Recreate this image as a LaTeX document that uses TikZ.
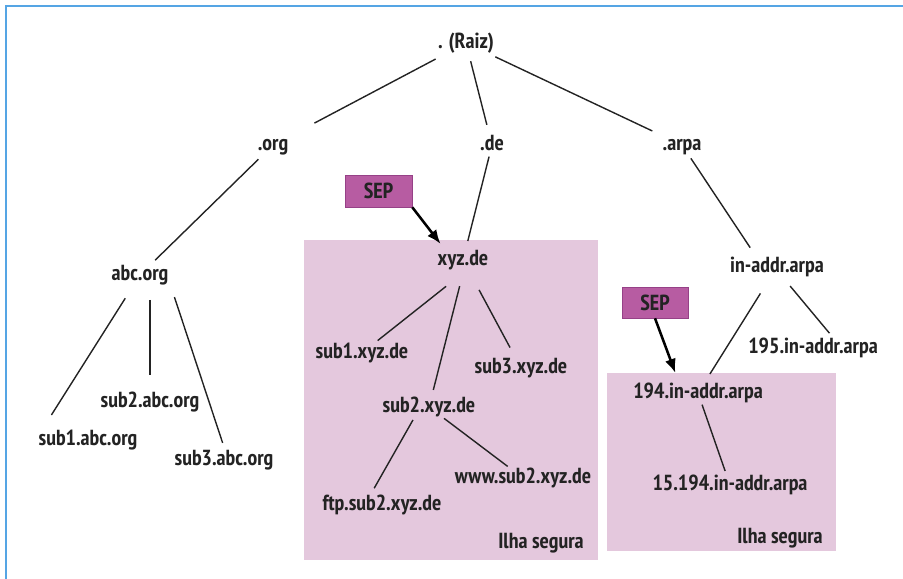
\documentclass[tikz,border=0pt]{standalone}
\usepackage{fontspec}
\setmainfont{PT Sans Narrow}
\usetikzlibrary{arrows.meta}

\definecolor{frameblue}{RGB}{85,165,228}
\definecolor{islepink}{RGB}{228,200,221}
\definecolor{sepfill}{RGB}{183,92,162}
\definecolor{sepdraw}{RGB}{150,65,135}
\definecolor{treeline}{RGB}{35,35,35}

\begin{document}
\begin{tikzpicture}[auto,>={Latex[length=10pt,width=8pt]},font=\fontsize{15.5}{17}\selectfont\bfseries,
	dom/.style={inner sep=2pt, text height=11pt, text depth=3pt, text=treeline},
	sepbox/.style={draw=sepdraw, fill=sepfill, text=treeline, minimum width=1.675cm, minimum height=0.8cm, inner sep=0pt},
	link/.style={draw=treeline, line width=1pt},
	seplink/.style={->, draw=black, line width=1.8pt}]
	\useasboundingbox (0,0) rectangle (22.575,14.475);
	\draw[frameblue, line width=1.5pt] (0.15,0) -- (0.15,14.325) -- (22.575,14.325);
	% secure islands
	\fill[islepink] (7.6cm,0.475cm) rectangle (14.95cm,8.475cm);
	\fill[islepink] (15.175cm,0.7cm) rectangle (20.9cm,5.15cm);
	\node[dom] (raiz) at (11.65cm,13.4cm) {. (Raiz)};
	\node[dom] (org) at (6.825cm,10.85cm) {.org};
	\node[dom] (de) at (12.3cm,10.85cm) {.de};
	\node[dom] (arpa) at (17.05cm,10.85cm) {.arpa};
	\node[dom] (abc) at (3.5cm,7.6cm) {abc.org};
	\node[dom] (abc1) at (2.2cm,3.475cm) {sub1.abc.org};
	\node[dom] (abc2) at (3.75cm,4.425cm) {sub2.abc.org};
	\node[dom] (abc3) at (5.6cm,2.975cm) {sub3.abc.org};
	\node[dom] (xyz) at (11.575cm,7.975cm) {xyz.de};
	\node[dom] (xyz1) at (9.05cm,5.65cm) {sub1.xyz.de};
	\node[dom] (xyz2) at (10.725cm,4.3cm) {sub2.xyz.de};
	\node[dom] (xyz3) at (13.025cm,5.275cm) {sub3.xyz.de};
	\node[dom] (ftp) at (9.55cm,1.85cm) {ftp.sub2.xyz.de};
	\node[dom] (www) at (13.075cm,2.525cm) {www.sub2.xyz.de};
	\node[dom] (inaddr) at (19.425cm,7.8cm) {in-addr.arpa};
	\node[dom] (addr195) at (20.325cm,5.775cm) {195.in-addr.arpa};
	\node[dom] (addr194) at (17.45cm,4.65cm) {194.in-addr.arpa};
	\node[dom] (addr15) at (18.25cm,2.35cm) {15.194.in-addr.arpa};
	\node[dom] (ilha1) at (13.525cm,0.9cm) {Ilha segura};
	\node[dom] (ilha2) at (19.5cm,1.025cm) {Ilha segura};
	\node[sepbox] (sep1) at (9.4625cm,9.7cm) {SEP};
	\node[sepbox, minimum width=1.65cm, minimum height=0.775cm] (sep2) at (16.375cm,6.9125cm) {SEP};
	\draw[link, shorten <=0.86cm, shorten >=1.17cm] (raiz.center) -- (org.center);
	\draw[link, shorten <=0.47cm, shorten >=0.52cm] (raiz.center) -- (de.center);
	\draw[link, shorten <=0.81cm, shorten >=0.82cm] (raiz.center) -- (arpa.center);
	\draw[link, shorten <=0.51cm, shorten >=0.53cm] (org.center) -- (abc.center);
	\draw[link, shorten <=0.69cm, shorten >=0.74cm] (abc.center) -- (abc1.west);
	\draw[link, shorten <=0.62cm, shorten >=0.34cm] (abc2.north |- abc.center) -- (abc2.north);
	\draw[link, shorten <=0.24cm, shorten >=0.11cm] (abc.south east) -- (abc3.north);
	\draw[link, shorten <=0.3cm, shorten >=0.49cm] (de.center) -- (xyz.center);
	\draw[link, shorten <=0.54cm, shorten >=0.5cm] (xyz.south) -- (xyz1.center);
	\draw[link, shorten <=0.34cm, shorten >=0.44cm] (xyz.south) -- (xyz2.center);
	\draw[link, shorten <=0.85cm, shorten >=0.58cm] (xyz.center) -- (xyz3.center);
	\draw[link, shorten >=0.11cm] ([xshift=-0.4cm]xyz2.south) -- ([xshift=-0.25cm]ftp.north);
	\draw[link, shorten <=0.47cm, shorten >=0.48cm] (xyz2.center) -- (www.center);
	\draw[link, shorten <=0.4cm, shorten >=0.58cm] (arpa.center) -- ([xshift=-0.35cm]inaddr.center);
	\draw[link, shorten <=0.78cm, shorten >=0.56cm] (inaddr.center) -- (addr194.center);
	\draw[link, shorten <=0.2cm, shorten >=0.06cm] ([xshift=0.2cm]inaddr.south) -- ([xshift=0.45cm]addr195.north);
	\draw[link, shorten <=0.31cm, shorten >=0.37cm] (addr194.center) -- (addr15.center);
	\draw[seplink, shorten >=0.1cm] (sep1.south east) -- ([xshift=-0.5cm]xyz.north);
	\draw[seplink, shorten >=0.19cm] (sep2.south) -- ([xshift=-0.5cm]addr194.north);
\end{tikzpicture}
\end{document}
